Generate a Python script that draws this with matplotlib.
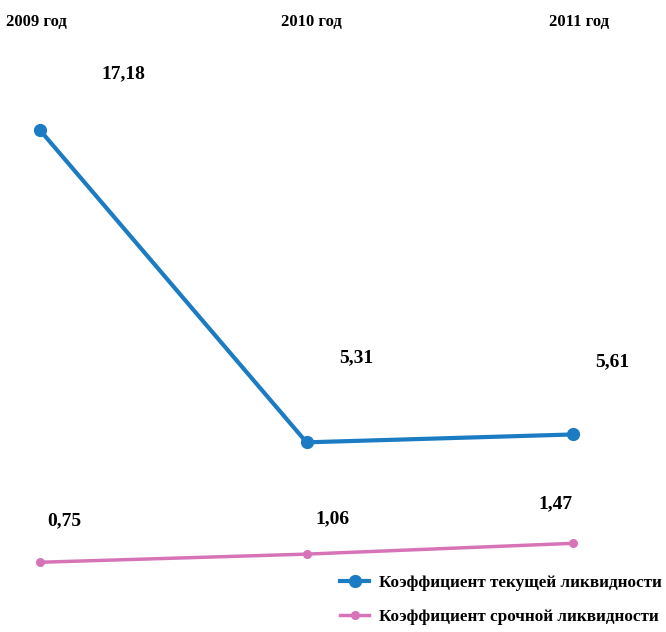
import matplotlib
matplotlib.use("Agg")
import matplotlib.pyplot as plt
from matplotlib.lines import Line2D

years = ["2009 год", "2010 год", "2011 год"]
current_ratio = [17.18, 5.31, 5.61]
quick_ratio = [0.75, 1.06, 1.47]
current_labels = ["17,18", "5,31", "5,61"]
quick_labels = ["0,75", "1,06", "1,47"]
series_names = ["Коэффициент текущей ликвидности", "Коэффициент срочной ликвидности"]

BLUE = "#1b7bc3"
PINK = "#d774b8"
FONT = "Liberation Serif"

W, H = 666, 632
fig = plt.figure(figsize=(W / 100, H / 100), dpi=100)
fig.patch.set_facecolor("white")

left, right = 40, 573
y0 = 582
scale = 26.3
ytop = 18
ax = fig.add_axes([left / W, 1 - y0 / H, (right - left) / W, ytop * scale / H])
ax.set_xlim(0, 2)
ax.set_ylim(0, ytop)
ax.axis("off")

x = list(range(len(years)))
ax.plot(x, current_ratio, color=BLUE, lw=3, marker="o", ms=8.5, clip_on=False, solid_capstyle="round")
ax.plot(x, quick_ratio, color=PINK, lw=2.5, marker="o", ms=5.5, clip_on=False)

txt = dict(fontfamily=FONT, fontweight="bold", fontsize=14, color="black", ha="center", va="center")
cur_off = [(83, 56), (50, 85), (39, 73)]
for xi, v, lab, off in zip(x, current_ratio, current_labels, cur_off):
    ax.annotate(lab, (xi, v), xytext=off, textcoords="offset pixels", **txt)
q_off = [(24, 42), (26, 35), (-17, 40)]
for xi, v, lab, off in zip(x, quick_ratio, quick_labels, q_off):
    ax.annotate(lab, (xi, v), xytext=off, textcoords="offset pixels", **txt)

ytxt = dict(txt)
ytxt["fontsize"] = 12
year_px = [36, 311, 579]
for xp, lab in zip(year_px, years):
    fig.text(xp / W, 1 - 22 / H, lab, **ytxt)

handles = [
    Line2D([0], [0], color=BLUE, lw=3, marker="o", ms=8.5),
    Line2D([0], [0], color=PINK, lw=2.5, marker="o", ms=5.5),
]
fig.legend(handles, series_names, loc="center left", bbox_to_anchor=(325 / W, 1 - 600 / H),
           frameon=False, handlelength=1.7, handletextpad=0.55, labelspacing=1.1,
           prop=dict(family=FONT, weight="bold", size=12.3))

fig.savefig("out.png", dpi=100, facecolor="white")
